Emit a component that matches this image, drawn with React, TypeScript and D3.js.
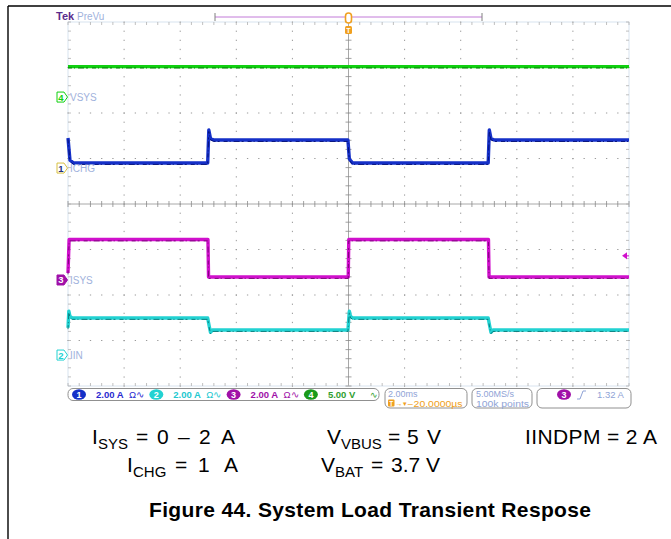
import React from 'react';
import * as d3 from 'd3';

const W = 671;
const H = 539;

// time axis (ms), 2.00 ms/div, 10 divisions
const timeDomainMs = [-10, 10];
const divDomain = [-4, 4];

// Channel 4 : VSYS (V)
const vsysTime = [-10, 10];
const vsysValue = [3.35, 3.35];

// Channel 1 : ICHG (A)
const ichgTime = [-10, -9.93, -9.8, -5.02, -4.98, -4.92, -4.8, -0.02, 0.03, 0.15, 4.98, 5.02, 5.08, 5.2, 10];
const ichgValue = [1.32, 0.35, 0.22, 0.22, 1.67, 1.3, 1.23, 1.23, 0.4, 0.22, 0.22, 1.67, 1.3, 1.23, 1.23];

// Channel 3 : ISYS (A)
const isysTime = [-10, -9.96, -5.01, -4.99, -0.01, 0.01, 4.99, 5.01, 10];
const isysValue = [0.31, 1.78, 1.78, 0.13, 0.13, 1.78, 1.78, 0.13, 0.13];

// Channel 2 : IIN (A)
const iinTime = [-10, -9.97, -9.93, -9.85, -5.02, -4.97, -4.92, -4.85, -0.02, 0.03, 0.07, 0.15, 4.98, 5.03, 5.08, 5.15, 10];
const iinValue = [1.2, 1.93, 1.7, 1.63, 1.63, 1.3, 1.0, 1.1, 1.1, 1.93, 1.7, 1.63, 1.63, 1.3, 1.0, 1.1, 1.1];

const channelNames = ['VSYS', 'ICHG', 'ISYS', 'IIN'];
const channelNumbers = ['4', '1', '3', '2'];
const channelOffsetsDiv = [2.35, 0.79, -1.67, -3.32];
const channelScalesPerDiv = [5, 2, 2, 2];

const statusChannels = ['1', '2', '3', '4'];
const statusScales = ['2.00 A', '2.00 A', '2.00 A', '5.00 V'];

const FONT = 'Liberation Sans, Arial, sans-serif';

const chanStyle: Record<string, { color: string; dark: string; text: string }> = {
  '1': { color: '#1530c8', dark: '#000a70', text: '#2a2ad0' },
  '2': { color: '#22d2d2', dark: '#007070', text: '#22c8d0' },
  '3': { color: '#d010cc', dark: '#700070', text: '#a010a8' },
  '4': { color: '#10d010', dark: '#006a00', text: '#30a030' },
};

type Tok = { t: string; x: number; sub?: boolean };

const cond1a: Tok[] = [{ t: 'I', x: 92 }, { t: 'SYS', x: 98, sub: true }, { t: '=', x: 136 }, { t: '0', x: 157 }, { t: '–', x: 178 }, { t: '2', x: 199 }, { t: 'A', x: 221 }];
const cond1b: Tok[] = [{ t: 'V', x: 327 }, { t: 'VBUS', x: 341, sub: true }, { t: '=', x: 388 }, { t: '5', x: 407 }, { t: 'V', x: 427 }];
const cond2a: Tok[] = [{ t: 'I', x: 127 }, { t: 'CHG', x: 133, sub: true }, { t: '=', x: 175 }, { t: '1', x: 198 }, { t: 'A', x: 224 }];
const cond2b: Tok[] = [{ t: 'V', x: 321 }, { t: 'BAT', x: 335, sub: true }, { t: '=', x: 371 }, { t: '3.7', x: 391 }, { t: 'V', x: 426 }];

function Cond({ toks, y }: { toks: Tok[]; y: number }) {
  return (
    <g>
      {toks.map((k, i) => (
        <text key={i} x={k.x} y={k.sub ? y + 5 : y} fontSize={k.sub ? 15 : 21} fill="#000">{k.t}</text>
      ))}
    </g>
  );
}

export default function App() {
  const x = d3.scaleLinear().domain(timeDomainMs).range([68, 629]);
  const y = d3.scaleLinear().domain(divDomain).range([386, 22]);
  const divW = x(-8) - x(-10);
  const divH = y(-4) - y(-3);

  const traces = [
    { t: vsysTime, v: vsysValue },
    { t: ichgTime, v: ichgValue },
    { t: isysTime, v: isysValue },
    { t: iinTime, v: iinValue },
  ];

  const minorX = d3.range(0, 51).map((i) => x(-10) + (i * divW) / 5);
  const minorY = d3.range(0, 41).map((i) => y(4) + (i * divH) / 5);
  const majorX = d3.range(0, 11).map((i) => x(-10 + 2 * i));
  const majorY = d3.range(0, 9).map((i) => y(4 - i));

  const grid: React.ReactNode[] = [];
  majorX.forEach((gx, i) => {
    if (i === 0 || i === 10 || i === 5) return;
    minorY.forEach((gy, j) => grid.push(<rect key={`vx${i}-${j}`} x={gx - 0.5} y={gy - 0.5} width={1} height={1.3} fill="#9a9a9a" />));
  });
  majorY.forEach((gy, i) => {
    if (i === 0 || i === 8 || i === 4) return;
    minorX.forEach((gx, j) => grid.push(<rect key={`hy${i}-${j}`} x={gx - 0.6} y={gy - 0.5} width={1.3} height={1} fill="#9a9a9a" />));
  });
  const cx = x(0);
  const cy = y(0);
  minorY.forEach((gy, j) => grid.push(<line key={`cyt${j}`} x1={cx - 3} x2={cx + 3} y1={gy} y2={gy} stroke="#8a8a8a" strokeWidth={0.8} />));
  minorX.forEach((gx, j) => grid.push(<line key={`cxt${j}`} x1={gx} x2={gx} y1={cy - 3} y2={cy + 3} stroke="#8a8a8a" strokeWidth={0.8} />));
  minorY.forEach((gy, j) => {
    grid.push(<line key={`el${j}`} x1={x(-10)} x2={x(-10) + 3} y1={gy} y2={gy} stroke="#b0b0b0" strokeWidth={0.8} />);
    grid.push(<line key={`er${j}`} x1={x(10) - 3} x2={x(10)} y1={gy} y2={gy} stroke="#b0b0b0" strokeWidth={0.8} />);
  });
  minorX.forEach((gx, j) => {
    grid.push(<line key={`et${j}`} x1={gx} x2={gx} y1={y(4)} y2={y(4) + 3} stroke="#b0b0b0" strokeWidth={0.8} />);
    grid.push(<line key={`eb${j}`} x1={gx} x2={gx} y1={y(-4) - 3} y2={y(-4)} stroke="#b0b0b0" strokeWidth={0.8} />);
  });

  const line = d3.line<[number, number]>().x((d) => d[0]).y((d) => d[1]);

  return (
    <svg width={W} height={H} style={{ position: 'absolute', left: 0, top: 0, background: '#fff' }} fontFamily={FONT}>
      <rect x={0} y={0} width={W} height={H} fill="#fff" />
      <line x1={8} x2={W} y1={6} y2={6} stroke="#000" strokeWidth={1.6} />
      <line x1={8} x2={8} y1={6} y2={H} stroke="#000" strokeWidth={1.4} />

      <rect x={x(-10)} y={y(4)} width={x(10) - x(-10)} height={y(-4) - y(4)} fill="#fff" stroke="#d8e3ef" strokeWidth={1} />
      <line x1={cx} x2={cx} y1={y(4)} y2={y(-4)} stroke="#a8a8a8" strokeWidth={1} />
      <line x1={x(-10)} x2={x(10)} y1={cy} y2={cy} stroke="#a8a8a8" strokeWidth={1} />
      {grid}

      {traces.map((tr, k) => {
        const num = channelNumbers[k];
        const st = chanStyle[num];
        const pts: [number, number][] = tr.t.map((t, i) => [x(t), y(channelOffsetsDiv[k] + tr.v[i] / channelScalesPerDiv[k])]);
        return (
          <g key={`tr${k}`}>
            <path d={line(pts) || ''} fill="none" stroke={st.color} strokeWidth={3.4} strokeLinejoin="round" />
            <path d={line(pts) || ''} fill="none" stroke={st.dark} strokeWidth={1} strokeDasharray="4 2 1 3 6 2 2 4" transform="translate(0,1.4)" opacity={0.85} />
          </g>
        );
      })}

      {channelNames.map((name, k) => {
        const num = channelNumbers[k];
        const st = chanStyle[num];
        const ly = y(channelOffsetsDiv[k]);
        const filled = num === '3';
        const outline = num === '1' ? '#d8c040' : st.color;
        return (
          <g key={`lab${k}`}>
            <path d={`M57,${ly - 5} h7 l3.5,5 l-3.5,5 h-7 Z`} fill={filled ? st.text : '#fff'} stroke={filled ? st.text : outline} strokeWidth={1} />
            <text x={61} y={ly + 3.5} fontSize={9.5} fontWeight="bold" textAnchor="middle" fill={filled ? '#fff' : num === '1' ? '#203080' : st.color}>{num}</text>
            <text x={70} y={ly + 3.7} fontSize={10} fill="#9fb2dc">{name}</text>
          </g>
        );
      })}

      <path d={`M622,${y(-1.14)} l5,-3.5 v7 Z`} fill="#d010cc" />
      <line x1={624} x2={629} y1={y(-1.14)} y2={y(-1.14)} stroke="#d010cc" strokeWidth={1} />

      <text x={56} y={20} fontSize={11} fontWeight="bold" fill="#5a2c8c">Tek</text>
      <text x={77} y={20} fontSize={10} fill="#9fb2dc">PreVu</text>
      <line x1={215} x2={482} y1={17} y2={17} stroke="#c27ad8" strokeWidth={1} />
      <line x1={215} x2={215} y1={13} y2={21} stroke="#808080" strokeWidth={1} />
      <line x1={482} x2={482} y1={13} y2={21} stroke="#808080" strokeWidth={1} />
      <rect x={cx - 3} y={13} width={6} height={10} rx={3} fill="#fff" stroke="#f0a020" strokeWidth={1.6} />
      <rect x={cx - 3.5} y={26} width={7} height={8} rx={1.5} fill="#f0a020" />
      <text x={cx} y={33} fontSize={7} fontWeight="bold" textAnchor="middle" fill="#fff">T</text>

      <rect x={68} y={388.5} width={311} height={12} rx={5} fill="#fff" stroke="#909090" strokeWidth={1} />
      {statusChannels.map((n, i) => {
        const st = chanStyle[n];
        const bx = 79 + i * 77.3;
        return (
          <g key={`st${i}`}>
            <ellipse cx={bx} cy={394.5} rx={7} ry={5.2} fill={n === '3' ? '#a010a8' : n === '4' ? '#1a9a1a' : st.color} />
            <text x={bx} y={398} fontSize={9} fontWeight="bold" textAnchor="middle" fill="#fff">{n}</text>
            <text x={bx + 17} y={398.3} fontSize={9.5} fontWeight="bold" fill={st.text}>{statusScales[i]}</text>
            {n !== '4' ? (
              <text x={bx + 50} y={398.3} fontSize={9.5} fill={st.text}>Ω∿</text>
            ) : (
              <text x={bx + 59} y={398.3} fontSize={9} fill={st.text}>∿</text>
            )}
          </g>
        );
      })}
      <rect x={385} y={388.5} width={82} height={19.5} rx={5} fill="#fff" stroke="#909090" strokeWidth={1} />
      <text x={388} y={397.3} fontSize={9} fill="#8fa3d6">2.00ms</text>
      <rect x={388} y={399.5} width={6.5} height={7} rx={1} fill="#f0a020" />
      <text x={391.2} y={405.6} fontSize={6.5} fontWeight="bold" textAnchor="middle" fill="#fff">T</text>
      <text x={395.5} y={406} fontSize={7} fill="#f0a020">→▾</text>
      <text x={407.5} y={406.5} fontSize={8.5} fill="#f0a020" textLength={55} lengthAdjust="spacingAndGlyphs">−20.0000µs</text>
      <rect x={472} y={388.5} width={60} height={19.5} rx={5} fill="#fff" stroke="#909090" strokeWidth={1} />
      <text x={476} y={397.3} fontSize={9} fill="#8fa3d6">5.00MS/s</text>
      <text x={476} y={406.5} fontSize={8.5} fill="#8fa3d6" textLength={53} lengthAdjust="spacingAndGlyphs">100k points</text>
      <rect x={537} y={388.5} width={94} height={19.5} rx={5} fill="#fff" stroke="#909090" strokeWidth={1} />
      <ellipse cx={564} cy={394.5} rx={7} ry={5.2} fill="#a010a8" />
      <text x={564} y={398} fontSize={9} fontWeight="bold" textAnchor="middle" fill="#fff">3</text>
      <path d="M577,399 h3 l3,-8 h3" fill="none" stroke="#8fa3d6" strokeWidth={1} />
      <text x={597} y={398.3} fontSize={9.5} fill="#8fa3d6">1.32 A</text>

      <Cond toks={cond1a} y={444} />
      <Cond toks={cond1b} y={444} />
      <text x={525} y={444} fontSize={21} fill="#000" textLength={132} lengthAdjust="spacing">IINDPM = 2 A</text>
      <Cond toks={cond2a} y={472} />
      <Cond toks={cond2b} y={472} />
      <text x={149} y={517} fontSize={21} fontWeight="bold" fill="#000" textLength={442} lengthAdjust="spacing">Figure 44. System Load Transient Respose</text>
    </svg>
  );
}
